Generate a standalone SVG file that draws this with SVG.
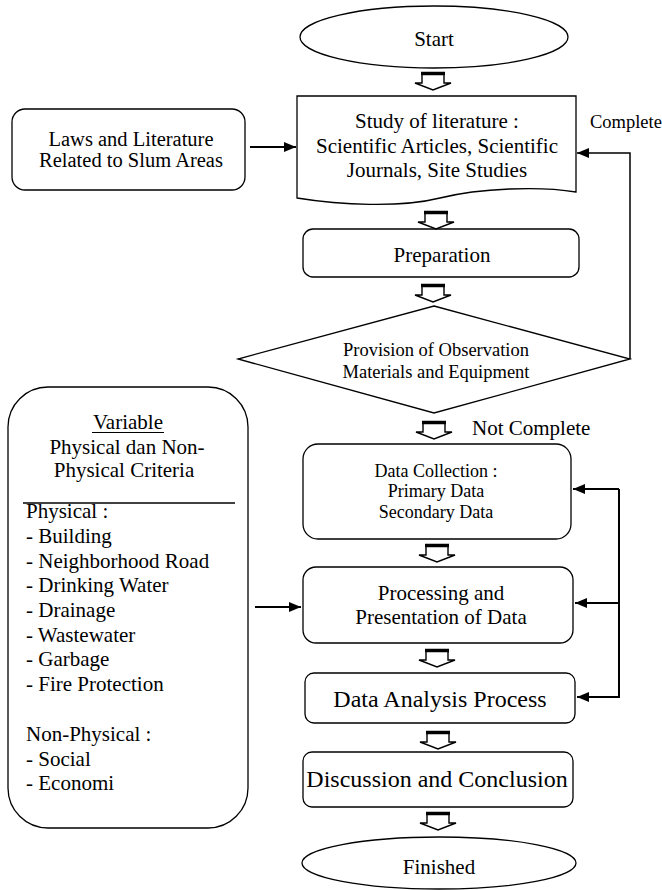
<svg xmlns="http://www.w3.org/2000/svg" width="662" height="890" viewBox="0 0 662 890" font-family="'Liberation Serif', 'Times New Roman', 'DejaVu Serif', serif">
<style>
.box{fill:#fff;stroke:#000;stroke-width:1.3}
.t{font-family:'Liberation Serif','Times New Roman','DejaVu Serif',serif;fill:#000}
.c{text-anchor:middle}
.conn{fill:none;stroke:#000;stroke-width:2}
</style>
<defs>
<marker id="ah" viewBox="0 0 12 10" refX="12" refY="5" markerWidth="12" markerHeight="10" markerUnits="userSpaceOnUse" orient="auto">
<path d="M0,0 L12,5 L0,10 Z" fill="#000"/>
</marker>
<g id="blk">
<path d="M-11,1 H11 V11 H18 L0,18 L-18,11 H-11 Z" fill="#fff" stroke="#000" stroke-width="1.4" stroke-linejoin="miter"/>
<path d="M-12,1.5 H12" stroke="#000" stroke-width="3.5"/>
</g>
</defs>
<rect width="662" height="890" fill="#fff"/>

<g id="start">
<ellipse class="box" cx="434" cy="37" rx="134" ry="31"/>
<text class="t c" x="434" y="46" font-size="21">Start</text>
</g>

<g id="laws">
<rect class="box" x="12" y="109" width="233" height="81" rx="13"/>
<text class="t c" x="131" y="146" font-size="20.5">Laws and Literature</text>
<text class="t c" x="131" y="167" font-size="20.5">Related to Slum Areas</text>
</g>

<g id="study">
<path class="box" d="M297,96 H576 V192 C540,186 480,188 440,198 C400,208 340,205 297,198 Z"/>
<text class="t c" x="437" y="128" font-size="21">Study of literature :</text>
<text class="t c" x="437" y="153" font-size="21">Scientific Articles, Scientific</text>
<text class="t c" x="437" y="177" font-size="21">Journals, Site Studies</text>
</g>

<g id="preparation">
<rect class="box" x="303" y="229" width="276" height="48" rx="10"/>
<text class="t c" x="442" y="262" font-size="21">Preparation</text>
</g>

<g id="provision">
<path class="box" d="M434,306 L630,359 L434,413 L238,359 Z"/>
<text class="t c" x="436" y="356" font-size="18.5">Provision of Observation</text>
<text class="t c" x="436" y="378" font-size="18.5">Materials and Equipment</text>
</g>

<g id="variable">
<rect class="box" x="8" y="387" width="240" height="441" rx="40"/>
<text class="t c" x="128" y="429" font-size="21">Variable</text>
<line x1="92" y1="432.5" x2="164" y2="432.5" stroke="#000" stroke-width="1"/>
<text class="t c" x="127" y="454" font-size="21">Physical dan Non-</text>
<text class="t c" x="124" y="477" font-size="21">Physical Criteria</text>
<line x1="23" y1="503" x2="235" y2="503" stroke="#000" stroke-width="1.3"/>
<text class="t" x="26" y="518" font-size="21">Physical :</text>
<text class="t" x="26" y="543" font-size="21">- Building</text>
<text class="t" x="26" y="568" font-size="21">- Neighborhood Road</text>
<text class="t" x="26" y="592" font-size="21">- Drinking Water</text>
<text class="t" x="26" y="617" font-size="21">- Drainage</text>
<text class="t" x="26" y="642" font-size="21">- Wastewater</text>
<text class="t" x="26" y="666" font-size="21">- Garbage</text>
<text class="t" x="26" y="691" font-size="21">- Fire Protection</text>
<text class="t" x="26" y="741" font-size="21">Non-Physical :</text>
<text class="t" x="26" y="766" font-size="21">- Social</text>
<text class="t" x="26" y="790" font-size="21">- Economi</text>
</g>

<g id="collection">
<rect class="box" x="303" y="444" width="268" height="95" rx="15"/>
<text class="t c" x="436" y="477" font-size="18">Data Collection :</text>
<text class="t c" x="436" y="497" font-size="18">Primary Data</text>
<text class="t c" x="436" y="518" font-size="18">Secondary Data</text>
</g>

<g id="processing">
<rect class="box" x="303" y="567" width="270" height="76" rx="13"/>
<text class="t c" x="441" y="600" font-size="21">Processing and</text>
<text class="t c" x="441" y="624" font-size="21">Presentation of Data</text>
</g>

<g id="analysis">
<rect class="box" x="305" y="673" width="270" height="50" rx="9"/>
<text class="t c" x="440" y="707" font-size="24">Data Analysis Process</text>
</g>

<g id="discussion">
<rect class="box" x="303" y="752" width="270" height="55" rx="9"/>
<text class="t c" x="437" y="787" font-size="24">Discussion and Conclusion</text>
</g>

<g id="finished">
<ellipse class="box" cx="439" cy="863" rx="137" ry="26"/>
<text class="t c" x="439" y="874" font-size="21">Finished</text>
</g>

<g id="connectors">
<use href="#blk" x="433" y="72"/>
<use href="#blk" x="436" y="211"/>
<use href="#blk" x="433" y="284"/>
<use href="#blk" x="434" y="421"/>
<use href="#blk" x="437" y="544"/>
<use href="#blk" x="437" y="649"/>
<use href="#blk" x="438" y="731"/>
<use href="#blk" x="438" y="812"/>
<path class="conn" d="M250,147 H296" marker-end="url(#ah)"/>
<path class="conn" d="M255,607 H301" marker-end="url(#ah)"/>
<path class="conn" style="stroke-width:1.5" d="M630,359 V153 H577" marker-end="url(#ah)"/>
<path class="conn" d="M619,489 V697 H577" marker-end="url(#ah)"/>
<path class="conn" d="M619,489 H573" marker-end="url(#ah)"/>
<path class="conn" d="M619,603 H575" marker-end="url(#ah)"/>
<text class="t" x="590" y="128" font-size="18.5">Complete</text>
<text class="t" x="472" y="435" font-size="21">Not Complete</text>
</g>
</svg>
